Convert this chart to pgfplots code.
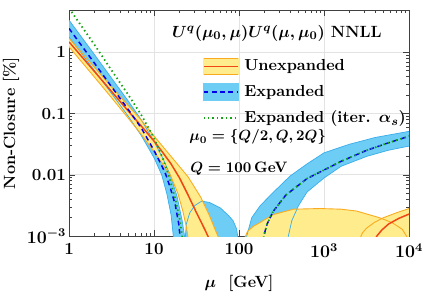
\documentclass[border=0pt]{standalone}
\usepackage{pgfplots}
\pgfplotsset{compat=1.18}
\definecolor{yfill}{RGB}{255,236,140}
\definecolor{oedge}{RGB}{250,170,30}
\definecolor{bfill}{RGB}{110,205,245}
\definecolor{bedge}{RGB}{60,175,235}
\definecolor{redline}{RGB}{240,70,20}
\definecolor{dblue}{RGB}{0,0,235}
\definecolor{dgreen}{RGB}{20,165,20}
\begin{document}
\begin{tikzpicture}
\begin{axis}[
  at={(0pt,0pt)}, anchor=south west,
  scale only axis, width=230pt, height=152.9pt,
  xmode=log, ymode=log,
  xmin=1, xmax=10000, ymin=0.001, ymax=4.9,
  xtick={1,10,100,1000,10000}, xticklabels={1,10,100,$10^3$,$10^4$},
  ytick={0.001,0.01,0.1,1}, yticklabels={$10^{-3}$,0.01,0.1,1},
  tick align=inside, major tick length=4pt, minor tick length=2pt,
  grid=major, major grid style={gray!22, line width=0.5pt},
  axis line style={black!75}, every tick/.style={black!75},
  tick label style={font=\fontsize{11.5}{13}\selectfont\bfseries\boldmath},
  xticklabel style={yshift=-1.5pt},
  yticklabel style={xshift=1.5pt},
  label style={font=\fontsize{11}{13}\selectfont\bfseries\boldmath},
  xlabel={$\mu$\ \ [GeV]}, ylabel={Non-Closure [\%]},
  xlabel style={at={(axis description cs:0.5,-0.208)}, anchor=center},
  ylabel style={at={(axis description cs:-0.1705,0.5)}, anchor=center},
  legend style={at={(axis description cs:0.392,0.795)}, anchor=north west, draw=none, fill=none,
    font=\fontsize{10.8}{12}\selectfont\bfseries\boldmath, row sep=4.3pt, inner sep=0pt,
    /tikz/every odd column/.append style={column sep=1.5pt}},
  legend cell align=left,
]
% ---- blue fills (Expanded band) ----
\addplot[forget plot, fill=bfill, draw=none] coordinates {
 (1,3.35) (2,0.91) (3.16,0.38) (5.01,0.158) (7.08,0.079) (10,0.035) (12.6,0.019) (15.5,0.01) (18.6,0.0045) (21.4,0.0018) (23.4,0.0008) (24,0.0003)
 (17.4,0.0003) (17.0,0.0009) (15.85,0.00224) (14.1,0.005) (12.3,0.01) (10,0.019) (7.08,0.0437) (5.01,0.089) (3.16,0.214) (2,0.50) (1,1.78)
} -- cycle;
\addplot[forget plot, fill=bfill, draw=none] coordinates {
 (23.2,0.000316) (23.4,0.001) (24.0,0.00158) (26.3,0.0024) (30.2,0.00316) (36.3,0.00372) (44.7,0.00355) (60.3,0.00288) (75.9,0.00214) (85.1,0.00178) (93.3,0.00132) (97.7,0.00089) (100,0.000316)
} -- cycle;
\addplot[forget plot, fill=bfill, draw=none] coordinates {
 (117.5,0.000316) (123,0.001) (141,0.002) (178,0.00316) (251,0.00513) (398,0.00955) (631,0.0151) (1000,0.0229) (1995,0.0316) (3981,0.0407) (10000,0.0513)
 (10000,0.0295) (5623,0.0251) (3162,0.02) (1585,0.0138) (1000,0.0089) (631,0.00525) (501,0.00316) (417,0.00178) (380,0.001) (371.5,0.000316)
} -- cycle;
% ---- yellow fills (Unexpanded band) ----
\addplot[forget plot, fill=yfill, draw=none] coordinates {
 (1,1.70) (2,0.565) (3.16,0.272) (5.01,0.134) (7.08,0.078) (10,0.043) (15.85,0.020) (25.1,0.0093) (35.5,0.0043) (44.7,0.00218) (52.5,0.00126) (60.3,0.0008) (63.1,0.0004)
 (26.3,0.0003) (25.7,0.0008) (24.0,0.0014) (21.9,0.0025) (19.05,0.005) (15.5,0.01) (12.6,0.0151) (10,0.024) (7.08,0.0457) (5.01,0.083) (3.16,0.182) (2,0.39) (1,1.23)
} -- cycle;
\addplot[forget plot, fill=yfill, draw=none] coordinates {
 (112.2,0.000316) (114.8,0.00089) (125.9,0.0012) (147.9,0.00145) (175.8,0.00166) (251,0.00224) (436.5,0.00275) (891,0.00282) (1585,0.00275) (2399,0.00257) (4467,0.002) (6310,0.00166) (8318,0.00129) (9333,0.001) (10000,0.00079) (12000,0.0003)
} -- cycle;
\addplot[forget plot, fill=yfill, draw=none] coordinates {
 (2570,0.000316) (2630,0.00089) (2818,0.00112) (3162,0.00135) (3981,0.0017) (5012,0.002) (7079,0.0024) (10000,0.00282) (12000,0.0030) (12000,0.0001)
} -- cycle;
% ---- blue edges ----
\addplot[forget plot, bedge, line width=0.5pt] coordinates {
 (1,3.35) (2,0.91) (3.16,0.38) (5.01,0.158) (7.08,0.079) (10,0.035) (12.6,0.019) (15.5,0.01) (18.6,0.0045) (21.4,0.0018) (23.4,0.0008) (24,0.0003)};
\addplot[forget plot, bedge, line width=0.5pt] coordinates {
 (1,1.78) (2,0.50) (3.16,0.214) (5.01,0.089) (7.08,0.0437) (10,0.019) (12.3,0.01) (14.1,0.005) (15.85,0.00224) (17.0,0.0009) (17.4,0.0003)};
\addplot[forget plot, bedge, line width=0.5pt] coordinates {
 (23.2,0.000316) (23.4,0.001) (24.0,0.00158) (26.3,0.0024) (30.2,0.00316) (36.3,0.00372) (44.7,0.00355) (60.3,0.00288) (75.9,0.00214) (85.1,0.00178) (93.3,0.00132) (97.7,0.00089) (100,0.000316)};
\addplot[forget plot, bedge, line width=0.5pt] coordinates {
 (117.5,0.000316) (123,0.001) (141,0.002) (178,0.00316) (251,0.00513) (398,0.00955) (631,0.0151) (1000,0.0229) (1995,0.0316) (3981,0.0407) (10000,0.0513)};
\addplot[forget plot, bedge, line width=0.5pt] coordinates {
 (371.5,0.000316) (380,0.001) (417,0.00178) (501,0.00316) (631,0.00525) (1000,0.0089) (1585,0.0138) (3162,0.02) (5623,0.0251) (10000,0.0295)};
% ---- orange edges ----
\addplot[forget plot, oedge, line width=0.6pt] coordinates {
 (1,1.70) (2,0.565) (3.16,0.272) (5.01,0.134) (7.08,0.078) (10,0.043) (15.85,0.020) (25.1,0.0093) (35.5,0.0043) (44.7,0.00218) (52.5,0.00126) (60.3,0.0008) (63.1,0.0004)};
\addplot[forget plot, oedge, line width=0.6pt] coordinates {
 (1,1.23) (2,0.39) (3.16,0.182) (5.01,0.083) (7.08,0.0457) (10,0.024) (12.6,0.0151) (15.5,0.01) (19.05,0.005) (21.9,0.0025) (24.0,0.0014) (25.7,0.0008) (26.3,0.0003)};
\addplot[forget plot, oedge, line width=0.6pt] coordinates {
 (112.2,0.000316) (114.8,0.00089) (125.9,0.0012) (147.9,0.00145) (175.8,0.00166) (251,0.00224) (436.5,0.00275) (891,0.00282) (1585,0.00275) (2399,0.00257) (4467,0.002) (6310,0.00166) (8318,0.00129) (9333,0.001) (10000,0.00079) (12000,0.0003)};
\addplot[forget plot, oedge, line width=0.6pt] coordinates {
 (2570,0.000316) (2630,0.00089) (2818,0.00112) (3162,0.00135) (3981,0.0017) (5012,0.002) (7079,0.0024) (10000,0.00282)};
% ---- central lines ----
\addplot[forget plot, redline, line width=1pt] coordinates {
 (1,1.48) (2,0.483) (3.98,0.158) (7.94,0.052) (10,0.0355) (12.6,0.0234) (15.85,0.0151) (19.95,0.0089) (25.1,0.0047) (31.6,0.0024) (39.8,0.00126) (44.7,0.00089) (47.9,0.0004)};
\addplot[forget plot, redline, line width=1pt] coordinates {
 (3802,0.000316) (3890,0.00079) (4169,0.001) (4786,0.00126) (5754,0.00158) (7586,0.00195) (10000,0.00229)};
\addplot[forget plot, dblue, line width=1pt, dash pattern=on 3.2pt off 2.4pt] coordinates {
 (1,2.45) (2,0.66) (3.16,0.275) (5.01,0.115) (7.08,0.058) (10,0.025) (12.6,0.0132) (13.8,0.01) (15.85,0.0056) (17.8,0.0032) (19.5,0.0016) (20.4,0.0009) (20.9,0.0004)};
\addplot[forget plot, dblue, line width=1pt, dash pattern=on 3.2pt off 2.4pt] coordinates {
 (190.5,0.000316) (195,0.001) (214,0.00158) (251,0.00251) (355,0.00468) (631,0.0087) (1000,0.012) (1585,0.0166) (3162,0.0251) (5623,0.0331) (10000,0.0427)};
\addplot[forget plot, dgreen, line width=1.2pt, dash pattern=on 1pt off 2pt] coordinates {
 (1,5.25) (2,1.32) (3.16,0.51) (5.01,0.20) (7.08,0.095) (10,0.040) (12.6,0.019) (14.8,0.01) (17.8,0.004) (20,0.0019) (21.9,0.0008) (22.9,0.0003)};
\addplot[forget plot, dgreen, line width=1.2pt, dash pattern=on 1pt off 2pt, dash phase=1.5pt] coordinates {
 (190.5,0.000316) (195,0.001) (214,0.00158) (251,0.00251) (355,0.00468) (631,0.0087) (1000,0.012) (1585,0.0166) (3162,0.0251) (5623,0.0331) (10000,0.0427)};
% ---- legend ----
\addlegendimage{legend image code/.code={
  \fill[yfill] (0pt,-5.5pt) rectangle (23.5pt,5.5pt);
  \draw[oedge,line width=0.4pt] (0pt,-5.5pt) -- (23.5pt,-5.5pt) (0pt,5.5pt) -- (23.5pt,5.5pt);
  \draw[redline,line width=1pt] (0pt,0pt) -- (23.5pt,0pt);}}
\addlegendentry{Unexpanded}
\addlegendimage{legend image code/.code={
  \fill[bfill] (0pt,-5.5pt) rectangle (23.5pt,5.5pt);
  \draw[dblue,line width=1pt,dash pattern=on 3.2pt off 2.4pt] (0pt,0pt) -- (23.5pt,0pt);}}
\addlegendentry{Expanded}
\addlegendimage{legend image code/.code={
  \draw[dgreen,line width=1.2pt,dash pattern=on 1pt off 2pt] (0pt,0pt) -- (23.5pt,0pt);}}
\addlegendentry{Expanded (iter. $\alpha_s$)}
% ---- annotations ----
\node[anchor=west, font=\fontsize{11}{13}\selectfont\bfseries\boldmath, inner sep=0pt] at (rel axis cs:0.302,0.897) {$U^q(\mu_0,\mu)U^q(\mu,\mu_0)$ NNLL};
\node[anchor=west, font=\fontsize{10.3}{12}\selectfont\bfseries\boldmath, inner sep=0pt] at (rel axis cs:0.353,0.438) {$\mu_0=\{Q/2,Q,2Q\}$};
\node[anchor=west, font=\fontsize{10.2}{12}\selectfont\bfseries\boldmath, inner sep=0pt] at (rel axis cs:0.356,0.30) {$Q=100\,$GeV};
\end{axis}
\pgfresetboundingbox
\path (-46.7pt,-42pt) rectangle (240.1pt,159.7pt);
\end{tikzpicture}
\end{document}
